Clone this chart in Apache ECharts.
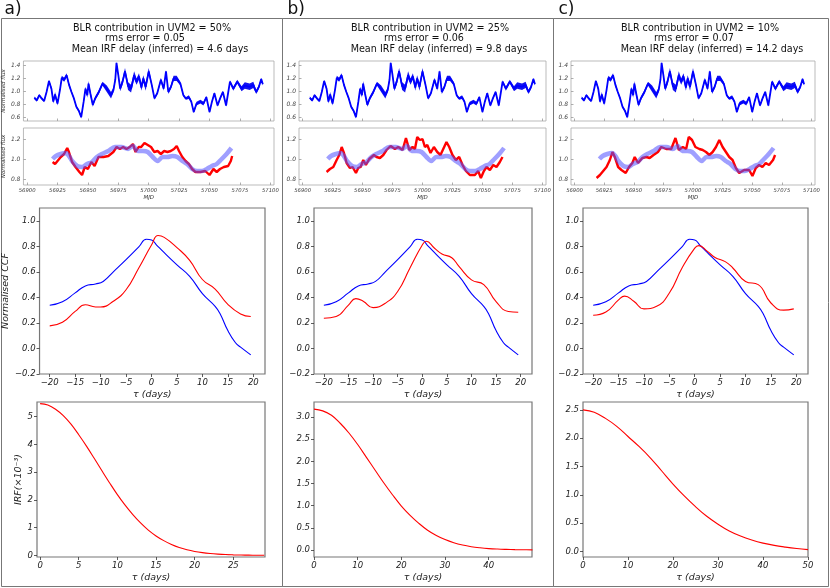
<!DOCTYPE html>
<html>
<head>
<meta charset="utf-8">
<script src="https://cdn.jsdelivr.net/npm/echarts@6/dist/echarts.min.js"></script>
<style>
  html, body { margin: 0; padding: 0; background: #fff; }
  #chart { width: 830px; height: 588px; }
</style>
</head>
<body>
<div id="chart"></div>
<script>
// driving light curve, same in all three columns: [MJD, flux, error]
const drivingLC = [
  [56906,0.90,0.02],[56908,0.86,0.02],[56910,0.94,0.02],[56912,0.89,0.02],[56914,0.85,0.02],
  [56916,0.99,0.02],[56918,1.16,0.02],[56920,1.04,0.03],[56921.5,0.84,0.03],[56923,0.95,0.04],
  [56925,0.81,0.03],[56927,1.02,0.02],[56928.5,1.21,0.03],[56930.5,1.18,0.03],[56932.5,1.25,0.03],
  [56934.5,1.10,0.03],[56936.5,0.99,0.02],[56938.5,0.89,0.02],[56940.5,0.76,0.02],[56942.5,0.70,0.02],
  [56944.5,0.60,0.02],[56946.5,0.84,0.03],[56948,1.04,0.03],[56949.5,0.94,0.04],[56950.5,1.12,0.04],
  [56952,0.97,0.04],[56954,0.79,0.03],[56956,0.89,0.03],[56959,0.99,0.03],[56962,1.12,0.03],
  [56965.5,1.04,0.05],[56969,0.94,0.05],[56971,1.02,0.04],[56972.5,1.18,0.03],[56973.5,1.44,0.02],
  [56975,1.25,0.03],[56976.5,1.04,0.04],[56978.5,1.15,0.05],[56980.5,1.31,0.05],[56983,1.08,0.06],
  [56985.5,1.04,0.06],[56988,1.25,0.06],[56990,1.15,0.05],[56992,1.23,0.05],[56994,1.06,0.05],
  [56995.5,1.20,0.05],[56997.5,1.07,0.06],[57000,1.31,0.05],[57002.5,1.10,0.03],[57004.7,0.89,0.02],
  [57007,0.97,0.02],[57010,1.18,0.03],[57012.3,1.04,0.03],[57014.2,1.31,0.02],[57016.1,0.99,0.03],
  [57018.3,1.07,0.03],[57020.4,1.20,0.04],[57023,1.20,0.04],[57026,1.12,0.03],[57028.5,0.94,0.02],
  [57030.5,0.89,0.02],[57033,0.91,0.03],[57035,0.84,0.02],[57037,0.68,0.02],[57039.3,0.81,0.03],
  [57042.5,0.84,0.03],[57045,0.81,0.03],[57047.4,0.91,0.02],[57050,0.68,0.02],[57052,0.84,0.02],
  [57054,0.97,0.02],[57056.6,0.78,0.02],[57058.7,0.89,0.02],[57061,0.99,0.02],[57063.6,0.78,0.02],
  [57066.8,1.15,0.02],[57069.5,1.04,0.03],[57072.8,1.15,0.03],[57076.3,1.04,0.04],[57079,1.09,0.05],
  [57083,1.07,0.05],[57086,1.10,0.05],[57088.4,0.99,0.03],[57090.6,1.07,0.03],[57092.5,1.19,0.02],
  [57093.8,1.11,0.02]
];

// model light curve (light blue band), [MJD, flux]
const modelLC = [
  [56921,1.00],[56923.7,1.03],[56927.7,1.05],[56931.7,1.06],[56934.4,1.03],[56937,0.98],
  [56941.2,0.93],[56945.2,0.92],[56949.3,0.95],[56953.3,0.97],[56957.4,1.02],[56961.4,1.05],
  [56966.8,1.08],[56972.2,1.12],[56977.6,1.12],[56983,1.10],[56987,1.13],[56991,1.08],
  [56995.2,1.08],[56999.2,1.07],[57003.3,1.02],[57007.3,0.98],[57011.4,1.02],[57015.4,1.02],
  [57019.5,1.03],[57023.5,1.02],[57027.6,0.98],[57031.6,0.95],[57035.7,0.90],[57039.7,0.88],
  [57043.8,0.88],[57047.8,0.90],[57051.9,0.93],[57055.9,0.95],[57060,1.00],[57064,1.05],[57068,1.11]
];

// observed (red) light curves
const redLC_a = [
  [56921,0.97],[56923,0.95],[56925,0.98],[56927.7,1.02],[56930.4,1.05],[56933,1.11],[56934.4,1.07],
  [56937,0.97],[56939.8,0.92],[56943,0.87],[56945.2,0.84],[56947.4,0.92],[56950,0.90],[56952.8,0.97],
  [56955.5,0.93],[56958.7,1.02],[56962.8,1.02],[56966.8,1.03],[56970.9,1.07],[56973.6,1.12],
  [56976.3,1.10],[56979,1.12],[56981.7,1.10],[56984.4,1.12],[56987,1.15],[56989.2,1.07],[56991.7,1.12],
  [56993.8,1.12],[56996.5,1.16],[56999.2,1.14],[57001.9,1.12],[57004.6,1.07],[57007.3,1.08],
  [57010,1.05],[57012.7,1.08],[57015.4,1.07],[57018.1,1.08],[57020.8,1.10],[57023,1.13],[57024.9,1.08],
  [57027.6,1.02],[57030.3,0.98],[57033,0.95],[57035.7,0.90],[57038.4,0.87],[57042.4,0.87],
  [57046.5,0.88],[57050,0.84],[57053.2,0.90],[57055.9,0.87],[57058.6,0.90],[57061.8,0.92],
  [57065.3,0.93],[57067.5,0.98],[57068.6,1.03]
];
const redLC_b = [
  [56920,0.87],[56922.8,0.90],[56925.6,0.92],[56928.4,0.99],[56930.6,1.04],[56932.6,1.12],[56934.5,1.06],
  [56936.7,0.96],[56939.5,0.91],[56941.7,0.92],[56944.5,0.86],[56946.4,0.91],[56948.4,0.92],[56950.6,0.99],
  [56952.8,0.94],[56955.6,1.00],[56959.5,1.04],[56961.7,1.02],[56964.5,1.01],[56967.3,1.04],[56970,1.09],
  [56973.4,1.13],[56977,1.10],[56979.8,1.12],[56983.4,1.09],[56986.2,1.21],[56989,1.09],[56991.7,1.12],
  [56993.7,1.10],[56995.6,1.22],[56997.8,1.19],[57000,1.20],[57002,1.12],[57004,1.14],[57006.7,1.06],
  [57009.5,1.12],[57012.3,1.07],[57015,1.04],[57017.3,1.10],[57020,1.17],[57022.3,1.12],[57025,1.04],
  [57027.8,0.99],[57030.6,1.02],[57033.4,0.94],[57036.2,0.88],[57039.5,0.84],[57043.7,0.84],
  [57046.4,0.88],[57048.7,0.81],[57051.2,0.88],[57053.4,0.92],[57056.2,0.89],[57059,0.94],
  [57061.7,0.92],[57064.5,0.97],[57066.7,1.02]
];
const redLC_c = [
  [56918.6,0.81],[56921.4,0.84],[56924.2,0.88],[56927,0.92],[56929.8,0.99],[56932,1.07],[56934,1.02],
  [56936.8,0.92],[56939.6,0.89],[56943.2,0.86],[56946,0.92],[56948.8,0.96],[56950.8,1.02],[56953.6,0.96],
  [56957.2,1.01],[56960.6,1.02],[56963.4,1.01],[56966.7,1.04],[56970.4,1.07],[56973.2,1.12],[56977.4,1.10],
  [56981.6,1.10],[56985.2,1.21],[56988,1.09],[56991.4,1.12],[56994.2,1.10],[56996.4,1.22],[56999.2,1.19],
  [57002,1.12],[57005.4,1.10],[57008.2,1.09],[57011,1.07],[57013.8,1.04],[57016.6,1.07],[57019.4,1.12],
  [57022.2,1.19],[57025,1.12],[57027.8,1.07],[57030.6,1.02],[57033.4,0.99],[57036.2,0.91],[57039,0.86],
  [57043.2,0.89],[57047.4,0.89],[57050.2,0.83],[57053,0.91],[57055.8,0.94],[57058.6,0.92],[57061.4,0.96],
  [57064.2,0.94],[57067.6,0.99],[57069.3,1.04]
];

// CCFs: [tau (days), normalised CCF]
const ccfBlue = [
  [-20,0.338],[-17.5,0.365],[-15,0.435],[-13,0.49],[-11,0.505],[-9.5,0.525],[-7.5,0.6],[-5,0.695],
  [-2.5,0.795],[-1,0.855],[0,0.85],[1,0.81],[2.5,0.75],[5,0.655],[7.5,0.565],[10,0.43],[12.5,0.33],
  [13.5,0.27],[15,0.14],[16.5,0.045],[17.5,0.01],[19.5,-0.05]
];
const ccfRed_a = [
  [-20,0.177],[-17.5,0.205],[-15,0.29],[-13,0.342],[-11,0.325],[-10,0.325],[-7.5,0.37],[-5,0.46],
  [-2.5,0.63],[0,0.81],[1.3,0.885],[2.5,0.87],[5,0.79],[7.5,0.69],[10,0.54],[12.5,0.465],[15,0.345],
  [17.5,0.27],[19.5,0.25]
];
const ccfRed_b = [
  [-20,0.237],[-17.5,0.25],[-15,0.34],[-13.5,0.39],[-12,0.37],[-10,0.32],[-7.5,0.354],[-5,0.446],
  [-2.5,0.63],[0,0.81],[0.8,0.84],[2.5,0.785],[4,0.74],[6,0.71],[7.5,0.64],[10,0.537],[12.5,0.50],
  [15,0.367],[17.5,0.29],[19.5,0.284]
];
const ccfRed_c = [
  [-20,0.26],[-17.5,0.285],[-15,0.38],[-13.8,0.41],[-12,0.37],[-10,0.31],[-7.5,0.33],[-5,0.434],
  [-2.5,0.63],[0,0.786],[0.8,0.805],[2.5,0.76],[4,0.713],[6,0.68],[7.5,0.63],[10,0.525],[12.5,0.50],
  [15,0.356],[17.5,0.30],[19.5,0.31]
];

// recovered IRFs: [tau (days), IRF x 1e-3]
const irf_a = [
  [0,5.47],[1,5.42],[2,5.27],[3,5.04],[4,4.73],[5,4.35],[6,3.94],[7,3.50],[8,3.05],[9,2.61],
  [10,2.19],[11,1.81],[12,1.47],[13,1.17],[14,0.91],[15,0.70],[16,0.53],[17,0.39],[18,0.28],
  [19,0.20],[20,0.14],[21,0.097],[22,0.066],[23,0.044],[24,0.028],[25,0.018],[26,0.011],
  [27,0.007],[28,0.004],[29,0.002]
];
const irf_b = [
  [0,3.18],[2,3.14],[4,3.04],[6,2.86],[8,2.64],[10,2.38],[12,2.09],[14,1.80],[16,1.51],[18,1.24],
  [20,0.99],[22,0.78],[24,0.60],[26,0.445],[28,0.326],[30,0.233],[32,0.162],[34,0.110],[36,0.073],
  [38,0.048],[40,0.030],[42,0.019],[44,0.012],[46,0.007],[48,0.004],[50,0.002]
];
const irf_c = [
  [0,2.50],[2.5,2.46],[5,2.35],[7.5,2.21],[10,2.03],[12.5,1.85],[15,1.65],[17.5,1.42],[20,1.19],
  [22.5,0.98],[25,0.79],[27.5,0.62],[30,0.48],[32.5,0.36],[35,0.27],[37.5,0.20],[40,0.145],
  [42.5,0.105],[45,0.075],[47.5,0.05],[50,0.03]
];

// tick labels
const mjdTicks = [56900,56925,56950,56975,57000,57025,57050,57075,57100];
const lcTopTicks = [0.6,0.8,1.0,1.2,1.4];
const lcBotTicks = [0.8,1.0,1.2];
const ccfTauTicks = [-20,-15,-10,-5,0,5,10,15,20];
const ccfTicks = [-0.2,0.0,0.2,0.4,0.6,0.8,1.0];
const irfTauTicks = [[0,5,10,15,20,25],[0,10,20,30,40],[0,10,20,30,40,50]];
const irfTicks = [[0,1,2,3,4,5],[0,0.5,1,1.5,2,2.5,3],[0,0.5,1,1.5,2,2.5]];

const panelLabels = ['a)','b)','c)'];
const titles = [
  ['BLR contribution in UVM2 = 50%','rms error = 0.05','Mean IRF delay (inferred) = 4.6 days'],
  ['BLR contribution in UVM2 = 25%','rms error = 0.06','Mean IRF delay (inferred) = 9.8 days'],
  ['BLR contribution in UVM2 = 10%','rms error = 0.07','Mean IRF delay (inferred) = 14.2 days']
];
const redLCs = [redLC_a, redLC_b, redLC_c];
const ccfReds = [ccfRed_a, ccfRed_b, ccfRed_c];
const irfs = [irf_a, irf_b, irf_c];

// layout of each column (pixels)
const layout = [
  {frame:[1.5,281], lc:[21,253], ccf:[37,228], irf:[37,228], tx:[152,145,160],
   irfX:[-0.4,29.1], irfY:[-0.06,5.53], irfFmt:v => String(v)},
  {frame:[282.5,271], lc:[299,247], ccf:[314,218], irf:[314,218], tx:[430,424,439],
   irfX:[0,49.9], irfY:[-0.16,3.34], irfFmt:v => v.toFixed(1)},
  {frame:[553.5,275], lc:[571,244], ccf:[583,225], irf:[583,225], tx:[700,694,712],
   irfX:[0,50], irfY:[-0.1,2.64], irfFmt:v => v.toFixed(1)}
];

const FONT = 'DejaVu Sans';
const minus = v => String(v).replace('-', '\u2212');

const grids = [], xAxes = [], yAxes = [], series = [];
function addGrid(g, x, y) {
  grids.push(Object.assign({show: true, backgroundColor: 'transparent'}, g));
  const i = grids.length - 1;
  x.gridIndex = i; y.gridIndex = i;
  xAxes.push(x); yAxes.push(y);
  return i;
}

function lcAxis(min, max, ticks, showLabel, fmt, fs) {
  return {
    type: 'value', min: min, max: max,
    axisLine: {show: false, onZero: false}, splitLine: {show: false},
    axisTick: {show: true, inside: true, length: 2.5, customValues: ticks, lineStyle: {color: '#999', width: 0.8}},
    axisLabel: {show: showLabel, customValues: ticks, formatter: fmt, margin: 3,
      fontFamily: FONT, fontStyle: 'italic', fontSize: fs, color: '#444'}
  };
}
function bigAxis(min, max, ticks, fmt) {
  return {
    type: 'value', min: min, max: max,
    axisLine: {show: false, onZero: false}, splitLine: {show: false},
    axisTick: {show: true, length: 3, customValues: ticks, lineStyle: {color: '#333', width: 0.8}},
    axisLabel: {customValues: ticks, formatter: fmt, margin: 4,
      fontFamily: FONT, fontStyle: 'italic', fontSize: 8.5, color: '#222'}
  };
}

// error band for the driving light curve, drawn from the data through the axes
function bandSeries(gi, data, color) {
  return {
    type: 'custom', xAxisIndex: gi, yAxisIndex: gi, data: data, clip: true, silent: true,
    encode: {x: 0, y: 1},
    renderItem: function (params, api) {
      if (params.dataIndex !== 0) return null;
      const up = data.map(d => api.coord([d[0], d[1] + d[2]]));
      const lo = data.map(d => api.coord([d[0], d[1] - d[2]])).reverse();
      return {type: 'polygon', shape: {points: up.concat(lo)}, style: {fill: color}};
    }
  };
}

const graphics = [];

layout.forEach((L, c) => {
  // frame and texts
  graphics.push({type: 'rect', shape: {x: L.frame[0], y: 18.5, width: L.frame[1], height: 568},
    style: {fill: 'none', stroke: '#777', lineWidth: 1}, silent: true});
  graphics.push({type: 'text', x: L.frame[0] + 3 + (c ? 2 : 0), y: 1,
    style: {text: panelLabels[c], font: '17px "DejaVu Sans"', fill: '#111'}});
  titles[c].forEach((t, k) => {
    graphics.push({type: 'text', x: L.tx[k], y: 28 + k * 10.5,
      style: {text: t, font: '9.6px "DejaVu Sans"', fill: '#111', align: 'center', verticalAlign: 'middle'}});
  });

  const lcGrid = {borderColor: '#aaa', borderWidth: 0.8};
  const lcName = {fontFamily: FONT, fontStyle: 'italic', fontSize: 5.5, color: '#333'};

  // driving light curve
  let xa = lcAxis(56897, 57103, mjdTicks, false, v => String(v), 5.3);
  let ya = lcAxis(0.54, 1.47, lcTopTicks, true, v => v.toFixed(1), 6);
  if (c === 0) Object.assign(ya, {name: 'Normalised flux', nameLocation: 'middle', nameGap: 9, nameTextStyle: lcName});
  let gi = addGrid(Object.assign({left: L.lc[0], top: 61, width: L.lc[1], height: 60}, lcGrid), xa, ya);
  series.push(bandSeries(gi, drivingLC, '#1414f0'));
  series.push({type: 'line', xAxisIndex: gi, yAxisIndex: gi, data: drivingLC.map(d => [d[0], d[1]]),
    showSymbol: false, silent: true, lineStyle: {color: '#0000ff', width: 1.8}});

  // observed vs model light curve
  xa = lcAxis(56897, 57103, mjdTicks, true, v => String(v), 5.3);
  Object.assign(xa, {name: 'MJD', nameLocation: 'middle', nameGap: 10, nameTextStyle: lcName});
  ya = lcAxis(0.74, 1.31, lcBotTicks, true, v => v.toFixed(1), 6);
  if (c === 0) Object.assign(ya, {name: 'Normalised flux', nameLocation: 'middle', nameGap: 9, nameTextStyle: lcName});
  gi = addGrid(Object.assign({left: L.lc[0], top: 128, width: L.lc[1], height: 57}, lcGrid), xa, ya);
  series.push({type: 'line', xAxisIndex: gi, yAxisIndex: gi, data: redLCs[c],
    showSymbol: false, silent: true, lineStyle: {color: '#ff0000', width: 2.4}});
  series.push({type: 'line', xAxisIndex: gi, yAxisIndex: gi, data: modelLC, smooth: 0.3,
    showSymbol: false, silent: true, lineStyle: {color: 'rgba(80,80,255,0.55)', width: 4.5}});

  // CCF panel
  const bigGrid = {borderColor: '#777', borderWidth: 1.2};
  const bigName = {fontFamily: FONT, fontStyle: 'italic', fontSize: 9.5, color: '#222'};
  xa = bigAxis(-22, 22.3, ccfTauTicks, minus);
  Object.assign(xa, {name: '\u03c4 (days)', nameLocation: 'middle', nameGap: 16, nameTextStyle: bigName});
  ya = bigAxis(-0.2, 1.1, ccfTicks, v => minus(v.toFixed(1)));
  if (c === 0) Object.assign(ya, {name: 'Normalised CCF', nameLocation: 'middle', nameGap: 16, nameTextStyle: bigName});
  gi = addGrid(Object.assign({left: L.ccf[0], top: 208, width: L.ccf[1], height: 166}, bigGrid), xa, ya);
  series.push({type: 'line', xAxisIndex: gi, yAxisIndex: gi, data: ccfBlue, smooth: 0.5,
    showSymbol: false, silent: true, lineStyle: {color: '#0000ff', width: 1.1}});
  series.push({type: 'line', xAxisIndex: gi, yAxisIndex: gi, data: ccfReds[c], smooth: 0.5,
    showSymbol: false, silent: true, lineStyle: {color: '#ff0000', width: 1.1}});

  // IRF panel
  xa = bigAxis(L.irfX[0], L.irfX[1], irfTauTicks[c], v => String(v));
  Object.assign(xa, {name: '\u03c4 (days)', nameLocation: 'middle', nameGap: 16, nameTextStyle: bigName});
  ya = bigAxis(L.irfY[0], L.irfY[1], irfTicks[c], L.irfFmt);
  if (c === 0) Object.assign(ya, {name: 'IRF(\u00d710\u207b\u00b3)', nameLocation: 'middle', nameGap: 13, nameTextStyle: bigName});
  gi = addGrid(Object.assign({left: L.irf[0], top: 402, width: L.irf[1], height: 155}, bigGrid), xa, ya);
  series.push({type: 'line', xAxisIndex: gi, yAxisIndex: gi, data: irfs[c], smooth: 0.4,
    showSymbol: false, silent: true, lineStyle: {color: '#ff0000', width: 1.1}});
});

const chart = echarts.init(document.getElementById('chart'), null, {renderer: 'canvas'});
chart.setOption({
  backgroundColor: '#fff',
  animation: false,
  grid: grids,
  xAxis: xAxes,
  yAxis: yAxes,
  series: series,
  graphic: graphics
});
</script>
</body>
</html>
